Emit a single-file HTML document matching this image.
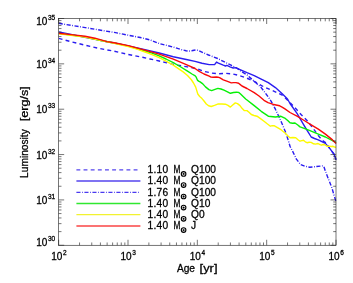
<!DOCTYPE html><html><head><meta charset="utf-8"><style>html,body{margin:0;padding:0;background:#fff}body{width:353px;height:283px;position:relative;overflow:hidden;font-family:"Liberation Sans",sans-serif}.t,.t text,.t tspan{font-family:"Liberation Sans",sans-serif}</style></head><body><svg width="353" height="283" viewBox="0 0 353 283" style="position:absolute;left:0;top:0;will-change:transform">
<defs><clipPath id="c"><rect x="58.7" y="18.5" width="278.1" height="226.8"/></clipPath></defs>
<g fill="none" stroke-linejoin="round" stroke-width="1.4" clip-path="url(#c)">
<path d="M58.7 38.4 L71.2 41.8 L85.3 45.2 L99.5 48.5 L114.2 51.2 L128.3 54.5 L142.5 57.3 L150.0 59.0 L159.2 61.0 L173.3 64.4 L187.5 66.9 L197.1 68.8 L203.5 71.3 L212.0 73.1 L219.0 73.7 L225.5 73.3 L232.5 73.9 L239.0 75.5 L245.7 77.7 L252.2 80.4 L258.0 83.5 L263.4 86.6 L270.5 89.7 L276.8 92.5 L283.0 95.6 L289.0 101.5 L295.7 108.5 L301.3 114.8 L307.0 120.5 L311.2 125.9 L314.8 130.7 L318.3 135.6 L322.6 140.6 L326.1 143.0 L329.7 148.4 L333.9 154.0 L336.1 159.7" stroke="#2a1cf0" stroke-dasharray="3.9 3.25"/>
<path d="M58.7 31.9 L71.0 34.5 L85.0 37.3 L95.0 39.3 L107.0 41.8 L114.2 43.0 L128.3 45.9 L145.0 49.6 L159.2 53.0 L173.3 56.7 L187.5 59.8 L195.0 61.4 L202.0 63.2 L209.2 64.6 L214.6 64.6 L216.5 62.1 L218.4 63.2 L223.3 65.2 L225.5 66.0 L226.9 65.4 L230.0 66.8 L233.2 68.0 L236.0 67.6 L237.5 68.5 L240.0 69.6 L247.0 72.7 L254.2 75.6 L261.2 79.1 L268.3 82.7 L275.4 87.6 L282.5 94.0 L287.5 99.0 L290.0 103.5 L297.0 113.4 L304.2 125.7 L307.7 131.4 L311.2 137.0 L314.5 138.5 L318.3 139.9 L325.4 143.4 L329.7 148.4 L333.9 154.0 L336.1 159.7" stroke="#2a1cf0"/>
<path d="M58.7 23.3 L71.2 25.4 L85.3 27.6 L99.5 30.0 L114.2 32.4 L128.3 35.2 L142.5 38.0 L150.0 39.9 L159.2 43.5 L173.3 47.1 L181.0 49.5 L186.0 50.8 L189.0 51.1 L191.7 50.8 L194.0 50.2 L196.2 49.9 L198.5 50.4 L203.0 52.6 L208.5 55.0 L217.7 58.5 L227.6 63.5 L237.5 68.5 L240.0 70.6 L247.0 74.9 L254.2 81.2 L261.2 87.6 L265.5 93.3 L269.0 98.0 L271.2 101.4 L275.4 109.2 L279.7 118.4 L282.5 124.7 L286.0 133.2 L288.2 140.2 L290.0 146.2 L292.8 151.6 L296.4 159.1 L300.6 164.6 L305.0 166.3 L309.8 167.2 L316.0 166.6 L323.0 165.8 L324.2 167.5 L325.4 171.2 L329.0 180.5 L331.8 187.5 L334.0 195.0 L336.1 202.0" stroke="#2a1cf0" stroke-dasharray="4.1 1.55 0.8 1.55"/>
<path d="M58.7 33.4 L71.0 35.0 L85.0 36.9 L100.0 40.2 L114.2 43.0 L128.3 46.1 L137.0 48.5 L145.0 51.0 L152.0 53.2 L159.2 55.9 L166.0 59.0 L173.3 62.7 L180.0 66.5 L187.5 71.2 L192.0 74.0 L195.2 75.8 L196.2 77.2 L197.4 80.1 L198.6 81.1 L200.1 81.9 L202.8 83.9 L205.5 86.9 L208.9 89.6 L211.6 90.6 L215.0 89.4 L217.9 88.4 L221.0 89.0 L224.0 90.2 L227.5 91.8 L230.4 93.3 L233.5 92.5 L236.5 92.2 L238.6 92.4 L240.3 93.7 L245.7 99.0 L247.0 100.0 L254.2 105.6 L261.2 111.3 L268.3 116.2 L275.4 117.0 L281.0 116.3 L285.3 118.4 L288.0 120.8 L290.0 122.8 L292.5 123.2 L295.0 123.0 L297.8 125.0 L300.0 126.9 L304.2 128.4 L311.2 131.2 L318.3 134.1 L325.4 137.0 L332.5 140.6 L336.1 142.7" stroke="#06f006"/>
<path d="M58.7 33.8 L71.0 35.2 L85.0 37.1 L100.0 40.4 L114.2 43.2 L128.3 46.5 L137.0 49.2 L145.0 52.0 L152.0 54.6 L159.2 57.7 L166.0 61.2 L173.3 65.2 L178.0 68.3 L183.2 71.9 L187.5 75.5 L191.2 79.5 L193.5 83.0 L195.7 87.1 L197.8 94.0 L199.7 96.5 L202.0 98.6 L204.0 101.0 L206.3 104.0 L208.6 105.8 L211.2 106.5 L214.5 105.4 L218.3 103.9 L222.0 104.0 L225.4 104.2 L228.0 105.4 L230.4 107.1 L233.0 104.8 L235.3 102.9 L237.5 103.6 L240.0 105.6 L242.0 108.3 L244.2 110.6 L247.0 110.6 L249.0 112.2 L251.3 114.5 L254.0 115.5 L257.0 116.2 L260.5 118.6 L264.0 121.2 L267.5 124.0 L270.4 126.2 L272.2 125.7 L274.0 125.6 L277.5 127.6 L281.0 129.7 L285.3 133.2 L288.0 136.0 L290.0 137.7 L293.0 137.5 L295.7 137.8 L298.0 139.8 L300.0 141.2 L301.8 140.6 L303.5 140.3 L305.3 141.8 L307.0 142.7 L309.2 142.2 L311.2 142.4 L313.5 143.8 L315.5 144.1 L318.0 143.5 L320.1 144.7 L321.4 145.2 L323.1 144.5 L324.8 144.7 L326.9 146.2 L329.6 146.1 L331.3 146.5 L333.0 146.3 L334.4 147.0 L336.1 147.2" stroke="#fcfa00"/>
<path d="M58.7 33.2 L71.0 34.6 L85.0 36.2 L95.0 38.2 L107.0 41.6 L114.2 42.8 L128.3 45.6 L145.0 50.2 L159.2 54.2 L173.3 59.1 L187.5 65.2 L195.0 68.5 L199.2 71.3 L204.0 74.0 L209.2 76.1 L211.0 77.1 L213.0 77.3 L216.4 77.0 L218.0 77.2 L220.0 77.9 L223.3 79.8 L227.5 81.4 L231.3 82.9 L233.5 82.6 L236.0 82.6 L238.6 83.2 L240.3 84.6 L242.0 86.0 L247.0 88.5 L254.2 92.6 L259.0 96.0 L264.0 100.3 L268.0 102.6 L272.6 104.2 L276.0 105.0 L279.7 105.8 L282.5 107.3 L285.3 109.2 L290.0 112.5 L297.0 116.2 L304.2 120.5 L311.2 124.8 L318.3 129.1 L325.4 134.1 L332.5 139.9 L336.1 143.4" stroke="#f80a0a"/>
</g>
<g fill="none" stroke-width="1.3">
<path d="M76.4 169.80 H140.4" stroke="#5545ee" stroke-dasharray="3.9 3.25"/>
<path d="M76.4 181.00 H140.4" stroke="#5545ee"/>
<path d="M76.4 192.40 H140.4" stroke="#4a3af0" stroke-dasharray="4.1 1.55 0.8 1.55"/>
<path d="M76.4 203.50 H140.4" stroke="#30e830"/>
<path d="M76.4 214.65 H140.4" stroke="#f2f230"/>
<path d="M76.4 226.00 H140.4" stroke="#fa4545"/>
</g>
<g fill="none" stroke="#222" stroke-width="0.62">
<rect x="58.67" y="18.50" width="277.33" height="226.77"/>
<path d="M58.67 245.27 V239.77 M58.67 18.50 V24.00 M79.54 245.27 V242.47 M79.54 18.50 V21.30 M91.75 245.27 V242.47 M91.75 18.50 V21.30 M100.41 245.27 V242.47 M100.41 18.50 V21.30 M107.13 245.27 V242.47 M107.13 18.50 V21.30 M112.62 245.27 V242.47 M112.62 18.50 V21.30 M117.26 245.27 V242.47 M117.26 18.50 V21.30 M121.28 245.27 V242.47 M121.28 18.50 V21.30 M124.83 245.27 V242.47 M124.83 18.50 V21.30 M128.00 245.27 V239.77 M128.00 18.50 V24.00 M148.87 245.27 V242.47 M148.87 18.50 V21.30 M161.08 245.27 V242.47 M161.08 18.50 V21.30 M169.74 245.27 V242.47 M169.74 18.50 V21.30 M176.46 245.27 V242.47 M176.46 18.50 V21.30 M181.95 245.27 V242.47 M181.95 18.50 V21.30 M186.60 245.27 V242.47 M186.60 18.50 V21.30 M190.62 245.27 V242.47 M190.62 18.50 V21.30 M194.16 245.27 V242.47 M194.16 18.50 V21.30 M197.33 245.27 V239.77 M197.33 18.50 V24.00 M218.21 245.27 V242.47 M218.21 18.50 V21.30 M230.42 245.27 V242.47 M230.42 18.50 V21.30 M239.08 245.27 V242.47 M239.08 18.50 V21.30 M245.80 245.27 V242.47 M245.80 18.50 V21.30 M251.29 245.27 V242.47 M251.29 18.50 V21.30 M255.93 245.27 V242.47 M255.93 18.50 V21.30 M259.95 245.27 V242.47 M259.95 18.50 V21.30 M263.50 245.27 V242.47 M263.50 18.50 V21.30 M266.67 245.27 V239.77 M266.67 18.50 V24.00 M287.54 245.27 V242.47 M287.54 18.50 V21.30 M299.75 245.27 V242.47 M299.75 18.50 V21.30 M308.41 245.27 V242.47 M308.41 18.50 V21.30 M315.13 245.27 V242.47 M315.13 18.50 V21.30 M320.62 245.27 V242.47 M320.62 18.50 V21.30 M325.26 245.27 V242.47 M325.26 18.50 V21.30 M329.28 245.27 V242.47 M329.28 18.50 V21.30 M332.83 245.27 V242.47 M332.83 18.50 V21.30 M336.00 245.27 V239.77 M336.00 18.50 V24.00 M58.67 245.27 H64.17 M336.00 245.27 H330.50 M58.67 231.62 H61.47 M336.00 231.62 H333.20 M58.67 223.63 H61.47 M336.00 223.63 H333.20 M58.67 217.96 H61.47 M336.00 217.96 H333.20 M58.67 213.57 H61.47 M336.00 213.57 H333.20 M58.67 209.98 H61.47 M336.00 209.98 H333.20 M58.67 206.94 H61.47 M336.00 206.94 H333.20 M58.67 204.31 H61.47 M336.00 204.31 H333.20 M58.67 201.99 H61.47 M336.00 201.99 H333.20 M58.67 199.92 H64.17 M336.00 199.92 H330.50 M58.67 186.26 H61.47 M336.00 186.26 H333.20 M58.67 178.28 H61.47 M336.00 178.28 H333.20 M58.67 172.61 H61.47 M336.00 172.61 H333.20 M58.67 168.21 H61.47 M336.00 168.21 H333.20 M58.67 164.62 H61.47 M336.00 164.62 H333.20 M58.67 161.59 H61.47 M336.00 161.59 H333.20 M58.67 158.96 H61.47 M336.00 158.96 H333.20 M58.67 156.64 H61.47 M336.00 156.64 H333.20 M58.67 154.56 H64.17 M336.00 154.56 H330.50 M58.67 140.91 H61.47 M336.00 140.91 H333.20 M58.67 132.92 H61.47 M336.00 132.92 H333.20 M58.67 127.26 H61.47 M336.00 127.26 H333.20 M58.67 122.86 H61.47 M336.00 122.86 H333.20 M58.67 119.27 H61.47 M336.00 119.27 H333.20 M58.67 116.23 H61.47 M336.00 116.23 H333.20 M58.67 113.60 H61.47 M336.00 113.60 H333.20 M58.67 111.28 H61.47 M336.00 111.28 H333.20 M58.67 109.21 H64.17 M336.00 109.21 H330.50 M58.67 95.56 H61.47 M336.00 95.56 H333.20 M58.67 87.57 H61.47 M336.00 87.57 H333.20 M58.67 81.90 H61.47 M336.00 81.90 H333.20 M58.67 77.51 H61.47 M336.00 77.51 H333.20 M58.67 73.92 H61.47 M336.00 73.92 H333.20 M58.67 70.88 H61.47 M336.00 70.88 H333.20 M58.67 68.25 H61.47 M336.00 68.25 H333.20 M58.67 65.93 H61.47 M336.00 65.93 H333.20 M58.67 63.85 H64.17 M336.00 63.85 H330.50 M58.67 50.20 H61.47 M336.00 50.20 H333.20 M58.67 42.21 H61.47 M336.00 42.21 H333.20 M58.67 36.55 H61.47 M336.00 36.55 H333.20 M58.67 32.15 H61.47 M336.00 32.15 H333.20 M58.67 28.56 H61.47 M336.00 28.56 H333.20 M58.67 25.53 H61.47 M336.00 25.53 H333.20 M58.67 22.90 H61.47 M336.00 22.90 H333.20 M58.67 20.58 H61.47 M336.00 20.58 H333.20 M58.67 18.50 H64.17 M336.00 18.50 H330.50"/>
</g>
<g class="t" fill="#000" font-size="10.2" stroke="#000" stroke-width="0.28">
<text x="147.4" y="173.1" letter-spacing="0.35">1.10</text>
<text x="173.6" y="173.1" textLength="6.9" lengthAdjust="spacingAndGlyphs">M</text>
<circle cx="183.6" cy="173.9" r="2.3" fill="none" stroke="#000" stroke-width="1.1"/><circle cx="183.6" cy="173.9" r="0.9"/>
<text x="191.1" y="173.1">Q100</text>
<text x="147.4" y="184.3" letter-spacing="0.35">1.40</text>
<text x="173.6" y="184.3" textLength="6.9" lengthAdjust="spacingAndGlyphs">M</text>
<circle cx="183.6" cy="185.1" r="2.3" fill="none" stroke="#000" stroke-width="1.1"/><circle cx="183.6" cy="185.1" r="0.9"/>
<text x="191.1" y="184.3">Q100</text>
<text x="147.4" y="195.7" letter-spacing="0.35">1.76</text>
<text x="173.6" y="195.7" textLength="6.9" lengthAdjust="spacingAndGlyphs">M</text>
<circle cx="183.6" cy="196.5" r="2.3" fill="none" stroke="#000" stroke-width="1.1"/><circle cx="183.6" cy="196.5" r="0.9"/>
<text x="191.1" y="195.7">Q100</text>
<text x="147.4" y="206.8" letter-spacing="0.35">1.40</text>
<text x="173.6" y="206.8" textLength="6.9" lengthAdjust="spacingAndGlyphs">M</text>
<circle cx="183.6" cy="207.6" r="2.3" fill="none" stroke="#000" stroke-width="1.1"/><circle cx="183.6" cy="207.6" r="0.9"/>
<text x="191.1" y="206.8">Q10</text>
<text x="147.4" y="218.0" letter-spacing="0.35">1.40</text>
<text x="173.6" y="218.0" textLength="6.9" lengthAdjust="spacingAndGlyphs">M</text>
<circle cx="183.6" cy="218.8" r="2.3" fill="none" stroke="#000" stroke-width="1.1"/><circle cx="183.6" cy="218.8" r="0.9"/>
<text x="191.1" y="218.0">Q0</text>
<text x="147.4" y="229.3" letter-spacing="0.35">1.40</text>
<text x="173.6" y="229.3" textLength="6.9" lengthAdjust="spacingAndGlyphs">M</text>
<circle cx="183.6" cy="230.1" r="2.3" fill="none" stroke="#000" stroke-width="1.1"/><circle cx="183.6" cy="230.1" r="0.9"/>
<text x="191.1" y="229.3">J</text>
<text x="36.2" y="246.0" font-size="10">10<tspan font-size="6.5" dy="-4.8" dx="0.6">30</tspan></text>
<text x="36.2" y="203.8" font-size="10">10<tspan font-size="6.5" dy="-4.8" dx="0.6">31</tspan></text>
<text x="36.2" y="158.5" font-size="10">10<tspan font-size="6.5" dy="-4.8" dx="0.6">32</tspan></text>
<text x="36.2" y="113.1" font-size="10">10<tspan font-size="6.5" dy="-4.8" dx="0.6">33</tspan></text>
<text x="36.2" y="67.8" font-size="10">10<tspan font-size="6.5" dy="-4.8" dx="0.6">34</tspan></text>
<text x="36.2" y="24.8" font-size="10">10<tspan font-size="6.5" dy="-4.8" dx="0.6">35</tspan></text>
<text x="51.2" y="259.7" font-size="10">10<tspan font-size="6.5" dy="-4.8" dx="0.6">2</tspan></text>
<text x="120.5" y="259.7" font-size="10">10<tspan font-size="6.5" dy="-4.8" dx="0.6">3</tspan></text>
<text x="189.8" y="259.7" font-size="10">10<tspan font-size="6.5" dy="-4.8" dx="0.6">4</tspan></text>
<text x="259.2" y="259.7" font-size="10">10<tspan font-size="6.5" dy="-4.8" dx="0.6">5</tspan></text>
<text x="328.5" y="259.7" font-size="10">10<tspan font-size="6.5" dy="-4.8" dx="0.6">6</tspan></text>
<text x="176.9" y="272.2">Age</text>
<text x="199.6" y="272.2" textLength="17.9" lengthAdjust="spacingAndGlyphs">[yr]</text>
<text transform="translate(27.9 177.9) rotate(-90)">Luminosity</text>
<text transform="translate(27.9 121.2) rotate(-90)" textLength="35" lengthAdjust="spacingAndGlyphs">[erg/s]</text>
</g>
</svg></body></html>
